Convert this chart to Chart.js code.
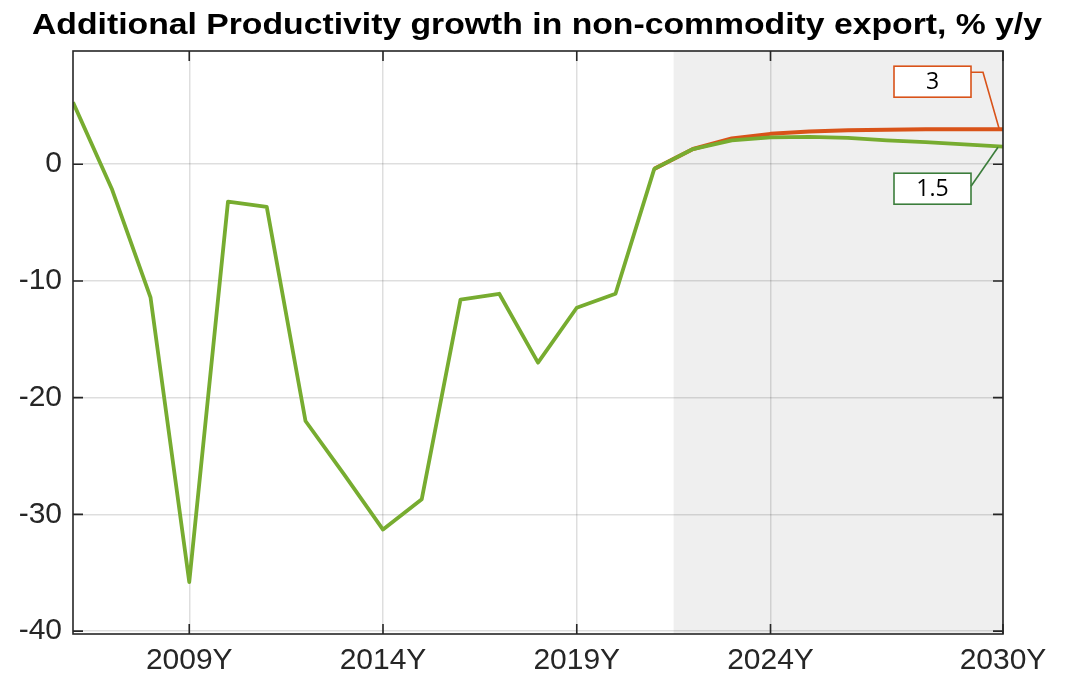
<!DOCTYPE html>
<html>
<head>
<meta charset="utf-8">
<script src="https://cdn.jsdelivr.net/npm/chart.js@4.4.1/dist/chart.umd.min.js"></script>
<style>
  html, body { margin: 0; padding: 0; background: #ffffff; }
  #wrap { width: 1074px; height: 677px; position: relative; }
</style>
</head>
<body>
<div id="wrap"><canvas id="c" width="1074" height="677"></canvas></div>
<script>
// ---- data ----
const titleText = 'Additional Productivity growth in non-commodity export, % y/y';
const years = [2006, 2007, 2008, 2009, 2010, 2011, 2012, 2013, 2014, 2015, 2016, 2017, 2018,
               2019, 2020, 2021, 2022, 2023, 2024, 2025, 2026, 2027, 2028, 2029, 2030];
const greenValues = [5.3, -2.1, -11.4, -35.8, -3.2, -3.65, -22.0, -26.6, -31.3, -28.7, -11.6, -11.1, -17.0,
                     -12.3, -11.1, -0.4, 1.3, 2.05, 2.3, 2.35, 2.25, 2.05, 1.9, 1.7, 1.5];
const redValues = [null, null, null, null, null, null, null, null, null, null, null, null, null,
                   null, null, -0.4, 1.3, 2.2, 2.6, 2.8, 2.9, 2.95, 3.0, 3.0, 3.0];
const xTickValues = [2009, 2014, 2019, 2024, 2030];
const xTickSuffix = 'Y';
const yTickValues = [-40, -30, -20, -10, 0];
const forecastStart = 2021.5;
const forecastEnd = 2030;
const calloutTexts = ['3', '1.5'];

const toPoints = (vals) => years.map((yr, i) => ({ x: yr, y: vals[i] }));

const axisColor = '#262626';
const gridColor = 'rgba(0,0,0,0.13)';

const titlePlugin = {
  id: 'stretchedTitle',
  afterDraw(chart) {
    const { ctx } = chart;
    ctx.save();
    ctx.font = 'bold 29px "Liberation Sans", Arial, sans-serif';
    ctx.fillStyle = '#000000';
    ctx.textAlign = 'center';
    ctx.textBaseline = 'alphabetic';
    const target = 1010;
    const w = ctx.measureText(titleText).width;
    const sx = target / w;
    ctx.translate(537, 33.5);
    ctx.scale(sx, 1);
    ctx.fillText(titleText, 0, 0);
    ctx.restore();
  }
};

const shadePlugin = {
  id: 'shade',
  beforeDraw(chart) {
    const { ctx, chartArea, scales } = chart;
    const x0 = scales.x.getPixelForValue(forecastStart);
    const x1 = scales.x.getPixelForValue(forecastEnd);
    ctx.save();
    ctx.fillStyle = '#efefef';
    ctx.fillRect(x0, chartArea.top, x1 - x0, chartArea.bottom - chartArea.top);
    ctx.restore();
  }
};

const framePlugin = {
  id: 'frame',
  afterDatasetsDraw(chart) {
    const { ctx, chartArea, scales } = chart;
    const { left, right, top, bottom } = chartArea;
    ctx.save();
    ctx.strokeStyle = axisColor;
    ctx.lineWidth = 1.6;
    ctx.strokeRect(left, top, right - left, bottom - top);
    const tl = 10;
    ctx.beginPath();
    xTickValues.forEach(v => {
      const px = scales.x.getPixelForValue(v);
      ctx.moveTo(px, bottom); ctx.lineTo(px, bottom - tl);
      ctx.moveTo(px, top); ctx.lineTo(px, top + tl);
    });
    yTickValues.forEach(v => {
      const py = scales.y.getPixelForValue(v);
      ctx.moveTo(left, py); ctx.lineTo(left + tl, py);
      ctx.moveTo(right, py); ctx.lineTo(right - tl, py);
    });
    ctx.stroke();
    ctx.restore();
  },
  afterDraw(chart) {
    const { ctx } = chart;
    const redMeta = chart.getDatasetMeta(0);
    const greenMeta = chart.getDatasetMeta(1);
    const rp = redMeta.data[redMeta.data.length - 1];
    const gp = greenMeta.data[greenMeta.data.length - 1];
    ctx.save();
    ctx.font = '23px "Open Sans", "Liberation Sans", sans-serif';
    ctx.textAlign = 'center';
    ctx.textBaseline = 'middle';
    ctx.lineWidth = 1.6;
    // red callout
    {
      const bw = 77, bh = 31;
      const bx = rp.x - 32 - bw, by = rp.y - 63;
      ctx.strokeStyle = '#d95319';
      ctx.fillStyle = '#ffffff';
      ctx.fillRect(bx, by, bw, bh);
      ctx.strokeRect(bx, by, bw, bh);
      ctx.beginPath();
      ctx.moveTo(bx + bw, by + 6);
      ctx.lineTo(bx + bw + 12, by + 6);
      ctx.lineTo(rp.x - 4, rp.y - 1);
      ctx.stroke();
      ctx.fillStyle = '#000000';
      ctx.fillText(calloutTexts[0], bx + bw / 2, by + bh / 2 + 1);
    }
    // green callout
    {
      const bw = 77, bh = 31;
      const bx = gp.x - 32 - bw, by = gp.y + 26.5;
      ctx.strokeStyle = '#3b7d3b';
      ctx.fillStyle = '#ffffff';
      ctx.fillRect(bx, by, bw, bh);
      ctx.strokeRect(bx, by, bw, bh);
      ctx.beginPath();
      ctx.moveTo(bx + bw, by + 13);
      ctx.lineTo(gp.x - 5, gp.y + 0.5);
      ctx.stroke();
      ctx.fillStyle = '#000000';
      ctx.fillText(calloutTexts[1], bx + bw / 2, by + bh / 2 + 1);
    }
    ctx.restore();
  }
};

new Chart(document.getElementById('c'), {
  type: 'line',
  data: {
    datasets: [
      {
        label: 'Scenario',
        data: toPoints(redValues),
        borderColor: '#d95319',
        borderWidth: 4,
        borderJoinStyle: 'round',
        pointRadius: 0,
        tension: 0,
        spanGaps: false,
        order: 2
      },
      {
        label: 'Baseline',
        data: toPoints(greenValues),
        borderColor: '#77ac30',
        borderWidth: 3.8,
        borderJoinStyle: 'round',
        pointRadius: 0,
        tension: 0,
        order: 1
      }
    ]
  },
  options: {
    responsive: false,
    animation: false,
    devicePixelRatio: 1,
    layout: { padding: { left: 0, right: 0, top: 51, bottom: 0 } },
    plugins: {
      legend: { display: false },
      tooltip: { enabled: false },
      title: { display: false }
    },
    scales: {
      x: {
        type: 'linear',
        min: 2006,
        max: 2030,
        afterBuildTicks(scale) { scale.ticks = xTickValues.map(v => ({ value: v })); },
        afterFit(scale) { scale.height = 43; },
        ticks: {
          autoSkip: false,
          maxRotation: 0,
          padding: 9,
          color: axisColor,
          font: { family: '"Liberation Sans", Arial, sans-serif', size: 30 },
          callback: (v) => v + xTickSuffix
        },
        grid: { color: gridColor, lineWidth: 1.5, drawTicks: false },
        border: { display: false }
      },
      y: {
        type: 'linear',
        min: -40.25,
        max: 9.7,
        afterBuildTicks(scale) { scale.ticks = yTickValues.map(v => ({ value: v })); },
        afterFit(scale) { scale.width = 73; },
        ticks: {
          padding: 11,
          color: axisColor,
          font: { family: '"Liberation Sans", Arial, sans-serif', size: 30 }
        },
        grid: { color: gridColor, lineWidth: 1.5, drawTicks: false },
        border: { display: false }
      },
      yr: {
        type: 'linear',
        position: 'right',
        display: true,
        afterFit(scale) { scale.width = 71; },
        ticks: { display: false },
        grid: { display: false, drawTicks: false },
        border: { display: false }
      }
    }
  },
  plugins: [shadePlugin, framePlugin, titlePlugin]
});
</script>
</body>
</html>
